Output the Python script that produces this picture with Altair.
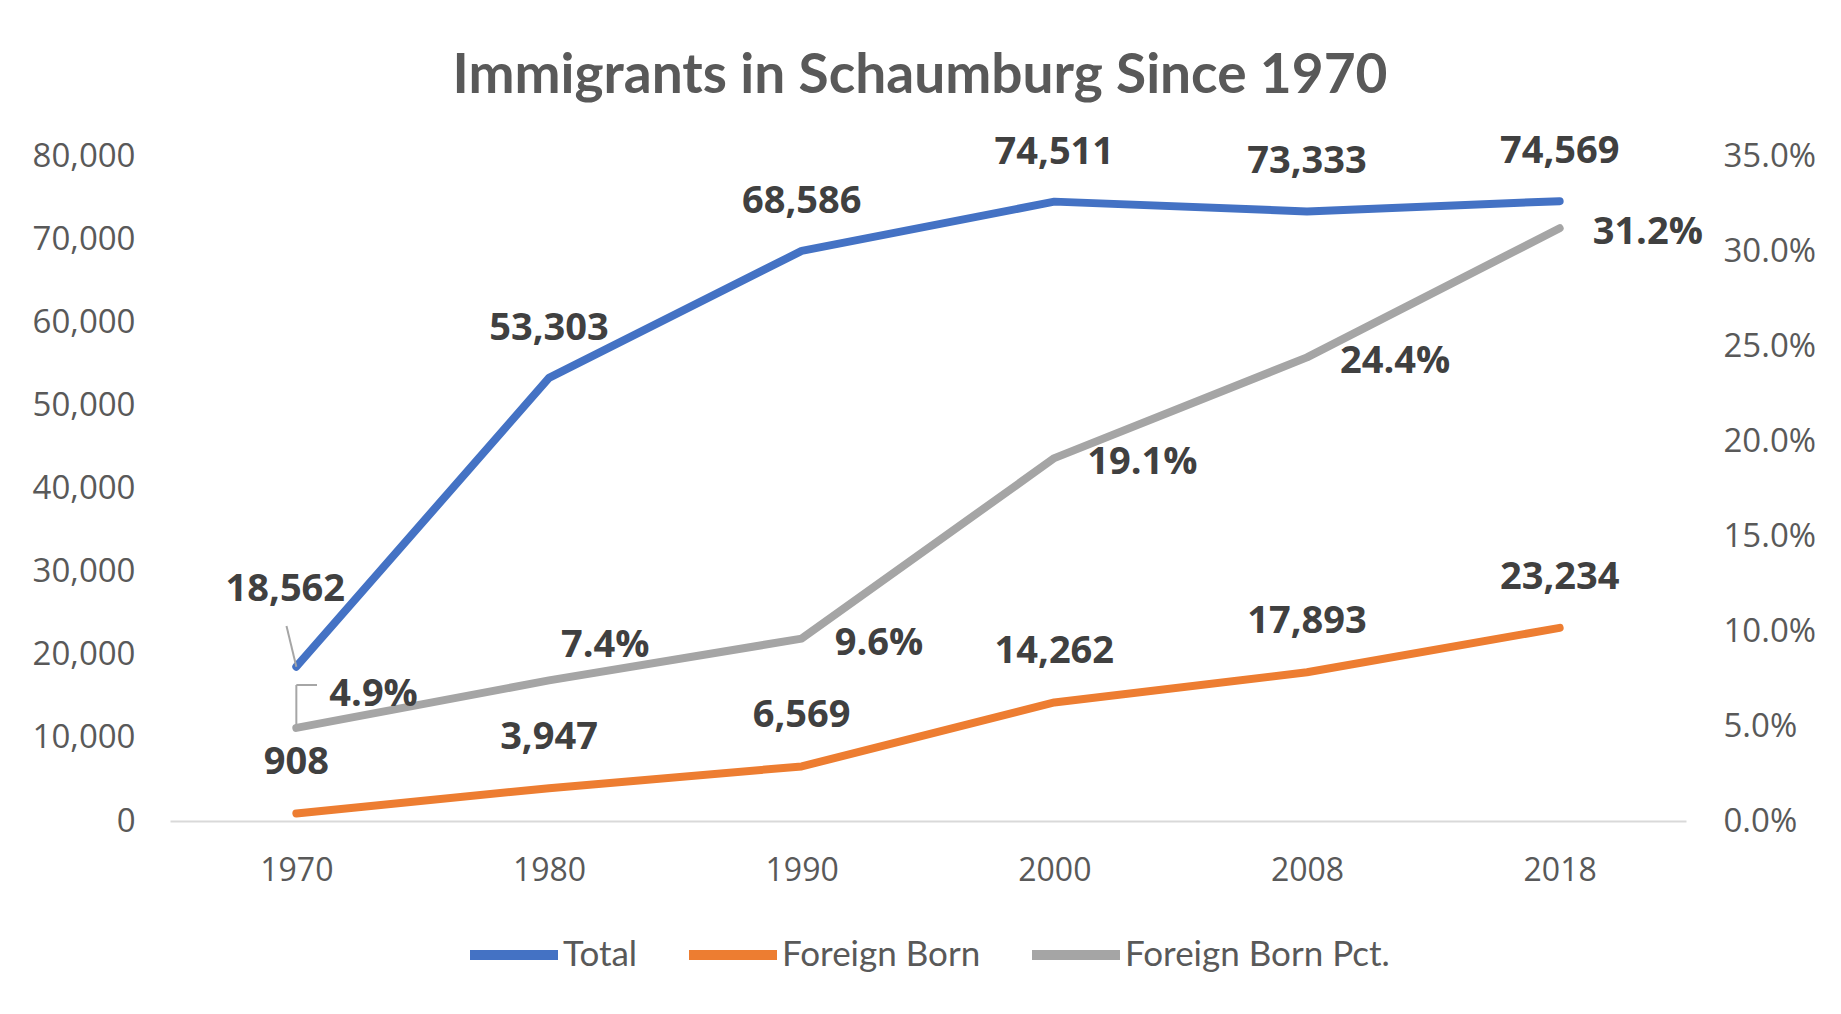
import altair as alt
import pandas as pd

YEARS = ["1970", "1980", "1990", "2000", "2008", "2018"]
TOTAL = [18562, 53303, 68586, 74511, 73333, 74569]
FOREIGN = [908, 3947, 6569, 14262, 17893, 23234]
PCT = [0.049, 0.074, 0.096, 0.191, 0.244, 0.312]
SERIES = ["Total", "Foreign Born", "Foreign Born Pct."]
COLORS = ["#4472C4", "#ED7D31", "#A5A5A5"]
LEFT_TICKS = [0, 10000, 20000, 30000, 40000, 50000, 60000, 70000, 80000]
RIGHT_TICKS = [0, 0.05, 0.10, 0.15, 0.20, 0.25, 0.30, 0.35]
TITLE = "Immigrants in Schaumburg Since 1970"

rows = []
for y, t in zip(YEARS, TOTAL):
    rows.append({"year": y, "series": SERIES[0], "value": t})
for y, f in zip(YEARS, FOREIGN):
    rows.append({"year": y, "series": SERIES[1], "value": f})
df_left = pd.DataFrame(rows)
df_pct = pd.DataFrame({"year": YEARS, "series": SERIES[2], "value": PCT})

LABEL_FONT = "Open Sans"
AXIS_COLOR = "#595959"
TEXT_COLOR = "#404040"

X = alt.X("year:O", sort=YEARS, scale=alt.Scale(type="point", padding=0.5),
          axis=alt.Axis(title=None, labelAngle=0, ticks=False, grid=False,
                        domain=True, domainColor="#D9D9D9", domainWidth=2,
                        labelPadding=34, labelFont=LABEL_FONT, labelFontSize=32,
                        labelColor=AXIS_COLOR))
YL = alt.Y("value:Q", scale=alt.Scale(domain=[0, 80000], nice=False),
           axis=alt.Axis(title=None, values=LEFT_TICKS, format=",d", ticks=False,
                         domain=False, grid=False, labelPadding=35,
                         labelFont=LABEL_FONT, labelFontSize=33, labelColor=AXIS_COLOR))
YR = alt.Y("value:Q", scale=alt.Scale(domain=[0, 0.35], nice=False),
           axis=alt.Axis(title=None, orient="right", values=RIGHT_TICKS, format=".1%",
                         ticks=False, domain=False, grid=False, labelPadding=37,
                         labelFont=LABEL_FONT, labelFontSize=33, labelColor=AXIS_COLOR))
COLOR = alt.Color("series:N", scale=alt.Scale(domain=SERIES, range=COLORS),
                  legend=alt.Legend(title=None, orient="none", direction="horizontal",
                                    legendX=295, legendY=750, symbolType="stroke",
                                    symbolSize=7744, symbolStrokeWidth=10,
                                    labelFont="Lato", labelFontSize=35, labelLimit=500,
                                    labelColor=AXIS_COLOR, labelOffset=0,
                                    columnPadding=31))


def labels(df, series, years, y_enc, fmt, dx, dy, align="center"):
    return (
        alt.Chart(df)
        .transform_filter(alt.datum.series == series)
        .transform_filter(alt.FieldOneOfPredicate(field="year", oneOf=years))
        .mark_text(font=LABEL_FONT, fontWeight="bold", fontSize=38, color=TEXT_COLOR,
                   dx=dx, dy=dy, align=align, baseline="middle")
        .encode(x=X, y=y_enc, text=alt.Text("value:Q", format=fmt))
    )


line_style = dict(strokeWidth=8, strokeCap="round", strokeJoin="round")

left_lines = alt.Chart(df_left).mark_line(**line_style).encode(x=X, y=YL, color=COLOR)
total_leader = (
    alt.Chart(df_left)
    .transform_filter((alt.datum.series == "Total") & (alt.datum.year == "1970"))
    .mark_rule(color="#A6A6A6", strokeWidth=2)
    .encode(x=X, y=YL, x2=alt.value(116.5), y2=alt.value(470))
)
left = alt.layer(
    left_lines,
    total_leader,
    labels(df_left, "Total", YEARS[1:], YL, ",d", 0, -49),
    labels(df_left, "Total", YEARS[:1], YL, ",d", -11, -77),
    labels(df_left, "Foreign Born", YEARS, YL, ",d", 0, -50),
)

pct_line = alt.Chart(df_pct).mark_line(**line_style).encode(x=X, y=YR, color=COLOR)
pct_first = alt.Chart(df_pct).transform_filter(alt.datum.year == "1970")
pct_leader_v = pct_first.mark_rule(color="#A6A6A6", strokeWidth=2).encode(
    x=X, y=YR, y2=alt.value(529))
pct_leader_h = pct_first.mark_rule(color="#A6A6A6", strokeWidth=2).encode(
    x=X, x2=alt.value(147), y=alt.value(529))
right = alt.layer(
    pct_line,
    pct_leader_v,
    pct_leader_h,
    labels(df_pct, SERIES[2], YEARS[2:], YR, ".1%", 33, 5, "left"),
    labels(df_pct, SERIES[2], YEARS[:1], YR, ".1%", 33, -33, "left"),
    labels(df_pct, SERIES[2], YEARS[1:2], YR, ".1%", 12, -34, "left"),
)

chart = (
    alt.layer(left, right)
    .resolve_scale(y="independent")
    .properties(
        width=1516,
        height=665,
        title=alt.TitleParams(TITLE, font="Lato", fontSize=55, fontWeight="bold",
                              color=AXIS_COLOR, anchor="middle", baseline="alphabetic",
                              offset=-15, dx=-8),
        autosize=alt.AutoSizeParams(type="none"),
        padding={"left": 162, "top": 148, "right": 147, "bottom": 185},
        background="white",
    )
    .configure_view(stroke=None)
)

chart.save("out.html", embed_options={"renderer": "svg", "actions": False})
